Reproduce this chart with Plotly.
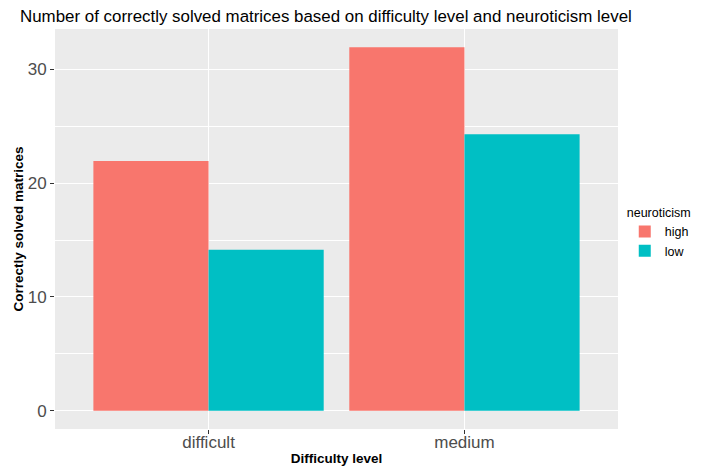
import plotly.graph_objects as go

categories = ["difficult", "medium"]
groups = ["high", "low"]
high_values = [21.95, 31.95]
low_values = [14.15, 24.3]
colors = {"high": "#F8766D", "low": "#00BFC4"}

fig = go.Figure()
for g, vals in zip(groups, [high_values, low_values]):
    fig.add_trace(go.Bar(
        x=categories, y=vals, name=g,
        marker=dict(color=colors[g], line=dict(width=0)),
    ))

font_family = "Liberation Sans, Arial, sans-serif"
W, H = 697, 458  # page body has an 8px margin
fig.update_layout(
    width=W, height=H,
    margin=dict(l=47, r=87, t=21, b=37, autoexpand=False),
    paper_bgcolor="white",
    plot_bgcolor="#EBEBEB",
    barmode="group",
    bargap=0.1,
    bargroupgap=0,
    font=dict(family=font_family),
    title=dict(
        text="Number of correctly solved matrices based on difficulty level and neuroticism level",
        x=12/W, xanchor="left", xref="container",
        y=1-8.5/H, yanchor="middle",
        font=dict(size=16.9, color="black", family=font_family),
    ),
    showlegend=True,
    legend=dict(
        title=dict(text="neuroticism", font=dict(size=12.5, color="black")),
        font=dict(size=12.5, color="black"),
        x=1.012, xanchor="left", y=0.49, yanchor="middle",
        tracegroupgap=0, itemwidth=30,
        bgcolor="rgba(0,0,0,0)",
    ),
    xaxis=dict(
        range=[-0.6, 1.6], automargin=False,
        showgrid=True, gridcolor="white", gridwidth=1.1,
        ticks="outside", ticklen=4, tickcolor="#333333", tickwidth=1,
        ticklabelstandoff=-6,
        tickfont=dict(size=17, color="#4D4D4D"),
        title=dict(text="<b>Difficulty level</b>", font=dict(size=13.5, color="black"), standoff=5),
        zeroline=False, showline=False,
    ),
    yaxis=dict(
        range=[-1.6, 33.55], automargin=False,
        tickvals=[0, 10, 20, 30],
        showgrid=True, gridcolor="white", gridwidth=1.1,
        minor=dict(tickvals=[5, 15, 25], showgrid=True, gridcolor="white", gridwidth=0.5, ticks=""),
        ticks="outside", ticklen=4, tickcolor="#333333", tickwidth=1,
        tickfont=dict(size=17, color="#4D4D4D"),
        title=dict(text="<b>Correctly solved matrices</b>", font=dict(size=13.5, color="black"), standoff=0),
        zeroline=False, showline=False,
    ),
)

fig.write_html("out.html")
